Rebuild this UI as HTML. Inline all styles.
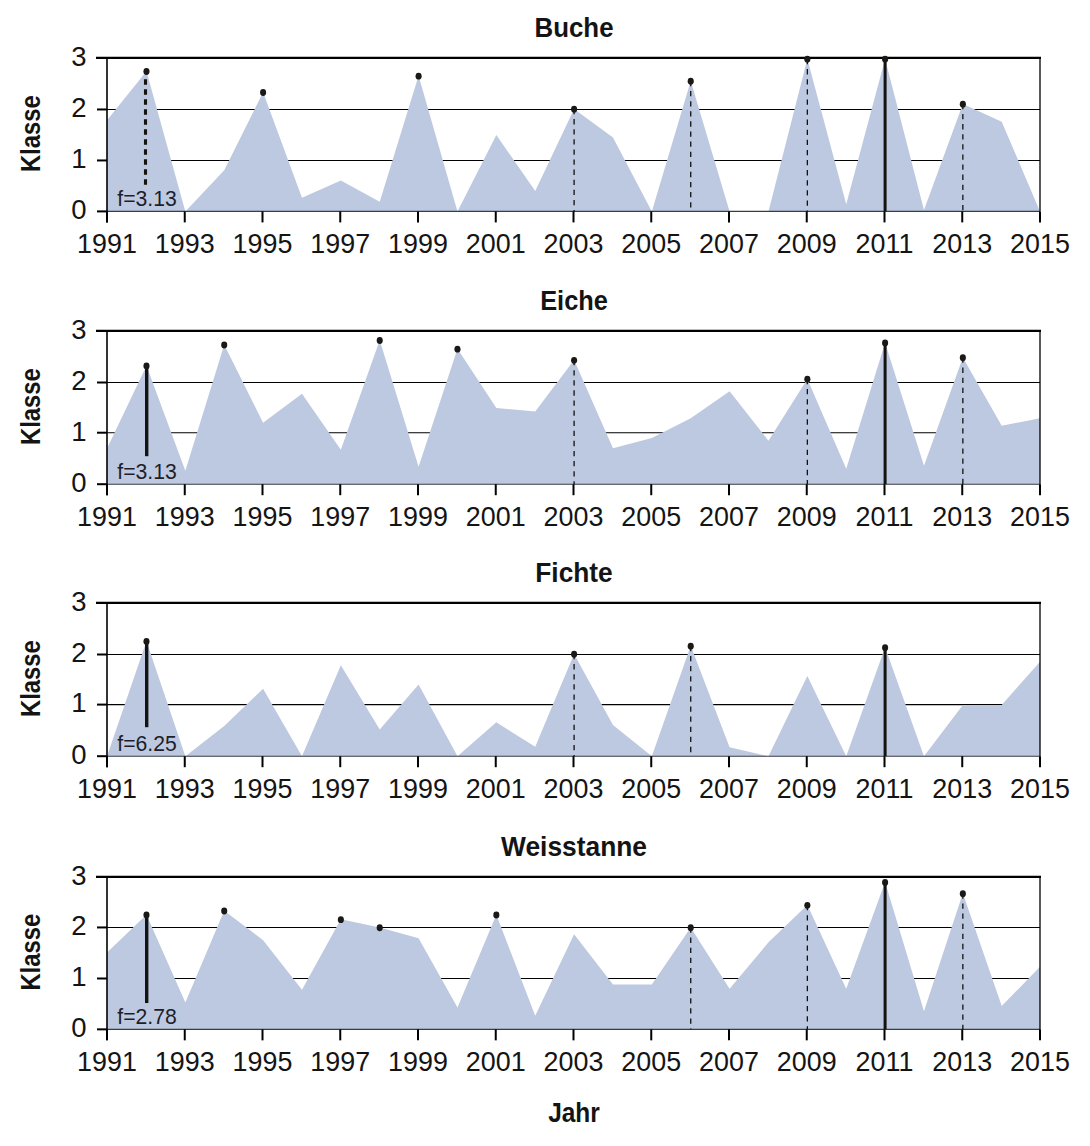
<!DOCTYPE html>
<html><head><meta charset="utf-8"><style>
html,body{margin:0;padding:0;background:#fff;width:1090px;height:1146px;overflow:hidden}
svg{display:block}
.t{font-family:"Liberation Sans",sans-serif;font-size:27.5px;fill:#141414}
.b{font-family:"Liberation Sans",sans-serif;font-size:28.2px;font-weight:bold;fill:#141414}
.f{font-family:"Liberation Sans",sans-serif;font-size:21.2px;fill:#1e1e28}
</style></head><body>
<svg width="1090" height="1146" viewBox="0 0 1090 1146">
<g><line x1="107.0" y1="160.45" x2="1040" y2="160.45" stroke="#000" stroke-width="1.1"/><line x1="107.0" y1="109.47" x2="1040" y2="109.47" stroke="#000" stroke-width="1.1"/><polygon points="107.0,211.40 107.0,120.32 146.47,71.26 185.35,211.40 224.22,170.20 263.10,92.17 301.98,197.74 340.85,180.40 379.73,201.82 418.60,75.85 457.48,211.40 496.35,135.01 535.23,191.11 574.10,109.00 612.98,137.56 651.85,211.40 690.73,80.95 729.60,211.40 768.48,211.40 807.35,59.02 846.23,204.37 885.10,59.02 923.98,209.98 962.85,103.90 1001.73,121.75 1040.00,211.40 1040.00,211.40" fill="#bdc9e0"/><line x1="107.0" y1="211.40" x2="1040" y2="211.40" stroke="#3a3d45" stroke-width="1.1"/><line x1="96" y1="57.94" x2="1041" y2="57.94" stroke="#000" stroke-width="2.2"/><line x1="107.0" y1="57.94" x2="107.0" y2="222.40" stroke="#000" stroke-width="1.6"/><line x1="1040" y1="57.94" x2="1040" y2="211.40" stroke="#000" stroke-width="1.3"/><line x1="1040" y1="211.40" x2="1040" y2="222.40" stroke="#000" stroke-width="2"/><line x1="97" y1="211.40" x2="107.0" y2="211.40" stroke="#000" stroke-width="2"/><line x1="97" y1="160.45" x2="107.0" y2="160.45" stroke="#000" stroke-width="2"/><line x1="97" y1="109.47" x2="107.0" y2="109.47" stroke="#000" stroke-width="2"/><line x1="184.75" y1="211.40" x2="184.75" y2="222.40" stroke="#000" stroke-width="2"/><line x1="262.50" y1="211.40" x2="262.50" y2="222.40" stroke="#000" stroke-width="2"/><line x1="340.25" y1="211.40" x2="340.25" y2="222.40" stroke="#000" stroke-width="2"/><line x1="418.00" y1="211.40" x2="418.00" y2="222.40" stroke="#000" stroke-width="2"/><line x1="495.75" y1="211.40" x2="495.75" y2="222.40" stroke="#000" stroke-width="2"/><line x1="573.50" y1="211.40" x2="573.50" y2="222.40" stroke="#000" stroke-width="2"/><line x1="651.25" y1="211.40" x2="651.25" y2="222.40" stroke="#000" stroke-width="2"/><line x1="729.00" y1="211.40" x2="729.00" y2="222.40" stroke="#000" stroke-width="2"/><line x1="806.75" y1="211.40" x2="806.75" y2="222.40" stroke="#000" stroke-width="2"/><line x1="884.50" y1="211.40" x2="884.50" y2="222.40" stroke="#000" stroke-width="2"/><line x1="962.25" y1="211.40" x2="962.25" y2="222.40" stroke="#000" stroke-width="2"/><line x1="107.0" y1="211.40" x2="107.0" y2="222.40" stroke="#000" stroke-width="2"/><line x1="574.10" y1="109.00" x2="574.10" y2="211.40" stroke="#111" stroke-width="1.3" stroke-dasharray="5.3 4.8"/><line x1="690.73" y1="80.95" x2="690.73" y2="211.40" stroke="#111" stroke-width="1.3" stroke-dasharray="5.3 4.8"/><line x1="807.35" y1="59.02" x2="807.35" y2="211.40" stroke="#111" stroke-width="1.3" stroke-dasharray="5.3 4.8"/><line x1="962.85" y1="103.90" x2="962.85" y2="211.40" stroke="#111" stroke-width="1.3" stroke-dasharray="5.3 4.8"/><line x1="885.10" y1="59.02" x2="885.10" y2="211.40" stroke="#141310" stroke-width="3"/><line x1="145.50" y1="79.26" x2="145.50" y2="185.40" stroke="#141310" stroke-width="3.1" stroke-dasharray="5.6 4.4"/><ellipse cx="146.47" cy="71.56" rx="3.05" ry="3.45" fill="#1a1915"/><ellipse cx="263.10" cy="92.47" rx="3.05" ry="3.45" fill="#1a1915"/><ellipse cx="418.60" cy="76.15" rx="3.05" ry="3.45" fill="#1a1915"/><ellipse cx="574.10" cy="109.30" rx="3.05" ry="3.45" fill="#1a1915"/><ellipse cx="690.73" cy="81.25" rx="3.05" ry="3.45" fill="#1a1915"/><ellipse cx="807.35" cy="59.32" rx="3.05" ry="3.45" fill="#1a1915"/><ellipse cx="885.10" cy="59.32" rx="3.05" ry="3.45" fill="#1a1915"/><ellipse cx="962.85" cy="104.20" rx="3.05" ry="3.45" fill="#1a1915"/><text x="86.5" y="219.20" text-anchor="end" class="t">0</text><text x="86.5" y="168.25" text-anchor="end" class="t">1</text><text x="86.5" y="117.27" text-anchor="end" class="t">2</text><text x="86.5" y="65.74" text-anchor="end" class="t">3</text><text transform="translate(107.00,252.90) scale(0.95,1)" text-anchor="middle" class="t" style="font-size:28.3px">1991</text><text transform="translate(184.75,252.90) scale(0.95,1)" text-anchor="middle" class="t" style="font-size:28.3px">1993</text><text transform="translate(262.50,252.90) scale(0.95,1)" text-anchor="middle" class="t" style="font-size:28.3px">1995</text><text transform="translate(340.25,252.90) scale(0.95,1)" text-anchor="middle" class="t" style="font-size:28.3px">1997</text><text transform="translate(418.00,252.90) scale(0.95,1)" text-anchor="middle" class="t" style="font-size:28.3px">1999</text><text transform="translate(495.75,252.90) scale(0.95,1)" text-anchor="middle" class="t" style="font-size:28.3px">2001</text><text transform="translate(573.50,252.90) scale(0.95,1)" text-anchor="middle" class="t" style="font-size:28.3px">2003</text><text transform="translate(651.25,252.90) scale(0.95,1)" text-anchor="middle" class="t" style="font-size:28.3px">2005</text><text transform="translate(729.00,252.90) scale(0.95,1)" text-anchor="middle" class="t" style="font-size:28.3px">2007</text><text transform="translate(806.75,252.90) scale(0.95,1)" text-anchor="middle" class="t" style="font-size:28.3px">2009</text><text transform="translate(884.50,252.90) scale(0.95,1)" text-anchor="middle" class="t" style="font-size:28.3px">2011</text><text transform="translate(962.25,252.90) scale(0.95,1)" text-anchor="middle" class="t" style="font-size:28.3px">2013</text><text transform="translate(1040.00,252.90) scale(0.95,1)" text-anchor="middle" class="t" style="font-size:28.3px">2015</text><text transform="translate(574,36.84) scale(0.917,1)" text-anchor="middle" class="b">Buche</text><text transform="translate(40,133.67) rotate(-90) scale(0.846,1)" text-anchor="middle" class="b">Klasse</text><text x="117.3" y="205.70" class="f">f=3.13</text></g>
<g><line x1="107.0" y1="432.70" x2="1040" y2="432.70" stroke="#000" stroke-width="1.1"/><line x1="107.0" y1="382.50" x2="1040" y2="382.50" stroke="#000" stroke-width="1.1"/><polygon points="107.0,484.20 107.0,448.61 146.47,365.68 185.35,470.74 224.22,344.77 263.10,422.80 301.98,393.73 340.85,449.83 379.73,340.18 418.60,466.66 457.48,348.85 496.35,408.01 535.23,411.58 574.10,360.07 612.98,448.30 651.85,438.10 690.73,418.21 729.60,391.18 768.48,440.65 807.35,378.94 846.23,468.70 885.10,342.73 923.98,465.64 962.85,357.52 1001.73,425.86 1040.00,418.21 1040.00,484.20" fill="#bdc9e0"/><line x1="107.0" y1="484.20" x2="1040" y2="484.20" stroke="#3a3d45" stroke-width="1.1"/><line x1="96" y1="330.95" x2="1041" y2="330.95" stroke="#000" stroke-width="2.2"/><line x1="107.0" y1="330.95" x2="107.0" y2="495.20" stroke="#000" stroke-width="1.6"/><line x1="1040" y1="330.95" x2="1040" y2="484.20" stroke="#000" stroke-width="1.3"/><line x1="1040" y1="484.20" x2="1040" y2="495.20" stroke="#000" stroke-width="2"/><line x1="97" y1="484.20" x2="107.0" y2="484.20" stroke="#000" stroke-width="2"/><line x1="97" y1="432.70" x2="107.0" y2="432.70" stroke="#000" stroke-width="2"/><line x1="97" y1="382.50" x2="107.0" y2="382.50" stroke="#000" stroke-width="2"/><line x1="184.75" y1="484.20" x2="184.75" y2="495.20" stroke="#000" stroke-width="2"/><line x1="262.50" y1="484.20" x2="262.50" y2="495.20" stroke="#000" stroke-width="2"/><line x1="340.25" y1="484.20" x2="340.25" y2="495.20" stroke="#000" stroke-width="2"/><line x1="418.00" y1="484.20" x2="418.00" y2="495.20" stroke="#000" stroke-width="2"/><line x1="495.75" y1="484.20" x2="495.75" y2="495.20" stroke="#000" stroke-width="2"/><line x1="573.50" y1="484.20" x2="573.50" y2="495.20" stroke="#000" stroke-width="2"/><line x1="651.25" y1="484.20" x2="651.25" y2="495.20" stroke="#000" stroke-width="2"/><line x1="729.00" y1="484.20" x2="729.00" y2="495.20" stroke="#000" stroke-width="2"/><line x1="806.75" y1="484.20" x2="806.75" y2="495.20" stroke="#000" stroke-width="2"/><line x1="884.50" y1="484.20" x2="884.50" y2="495.20" stroke="#000" stroke-width="2"/><line x1="962.25" y1="484.20" x2="962.25" y2="495.20" stroke="#000" stroke-width="2"/><line x1="107.0" y1="484.20" x2="107.0" y2="495.20" stroke="#000" stroke-width="2"/><line x1="574.10" y1="360.07" x2="574.10" y2="484.20" stroke="#111" stroke-width="1.3" stroke-dasharray="5.3 4.8"/><line x1="807.35" y1="378.94" x2="807.35" y2="484.20" stroke="#111" stroke-width="1.3" stroke-dasharray="5.3 4.8"/><line x1="962.85" y1="357.52" x2="962.85" y2="484.20" stroke="#111" stroke-width="1.3" stroke-dasharray="5.3 4.8"/><line x1="885.10" y1="342.73" x2="885.10" y2="484.20" stroke="#141310" stroke-width="3"/><line x1="146.70" y1="365.68" x2="146.70" y2="456.20" stroke="#141310" stroke-width="3.4"/><ellipse cx="146.47" cy="365.98" rx="3.05" ry="3.45" fill="#1a1915"/><ellipse cx="224.22" cy="345.07" rx="3.05" ry="3.45" fill="#1a1915"/><ellipse cx="379.73" cy="340.48" rx="3.05" ry="3.45" fill="#1a1915"/><ellipse cx="457.48" cy="349.15" rx="3.05" ry="3.45" fill="#1a1915"/><ellipse cx="574.10" cy="360.37" rx="3.05" ry="3.45" fill="#1a1915"/><ellipse cx="807.35" cy="379.24" rx="3.05" ry="3.45" fill="#1a1915"/><ellipse cx="885.10" cy="343.03" rx="3.05" ry="3.45" fill="#1a1915"/><ellipse cx="962.85" cy="357.82" rx="3.05" ry="3.45" fill="#1a1915"/><text x="86.5" y="492.00" text-anchor="end" class="t">0</text><text x="86.5" y="440.50" text-anchor="end" class="t">1</text><text x="86.5" y="390.30" text-anchor="end" class="t">2</text><text x="86.5" y="338.75" text-anchor="end" class="t">3</text><text transform="translate(107.00,525.70) scale(0.95,1)" text-anchor="middle" class="t" style="font-size:28.3px">1991</text><text transform="translate(184.75,525.70) scale(0.95,1)" text-anchor="middle" class="t" style="font-size:28.3px">1993</text><text transform="translate(262.50,525.70) scale(0.95,1)" text-anchor="middle" class="t" style="font-size:28.3px">1995</text><text transform="translate(340.25,525.70) scale(0.95,1)" text-anchor="middle" class="t" style="font-size:28.3px">1997</text><text transform="translate(418.00,525.70) scale(0.95,1)" text-anchor="middle" class="t" style="font-size:28.3px">1999</text><text transform="translate(495.75,525.70) scale(0.95,1)" text-anchor="middle" class="t" style="font-size:28.3px">2001</text><text transform="translate(573.50,525.70) scale(0.95,1)" text-anchor="middle" class="t" style="font-size:28.3px">2003</text><text transform="translate(651.25,525.70) scale(0.95,1)" text-anchor="middle" class="t" style="font-size:28.3px">2005</text><text transform="translate(729.00,525.70) scale(0.95,1)" text-anchor="middle" class="t" style="font-size:28.3px">2007</text><text transform="translate(806.75,525.70) scale(0.95,1)" text-anchor="middle" class="t" style="font-size:28.3px">2009</text><text transform="translate(884.50,525.70) scale(0.95,1)" text-anchor="middle" class="t" style="font-size:28.3px">2011</text><text transform="translate(962.25,525.70) scale(0.95,1)" text-anchor="middle" class="t" style="font-size:28.3px">2013</text><text transform="translate(1040.00,525.70) scale(0.95,1)" text-anchor="middle" class="t" style="font-size:28.3px">2015</text><text transform="translate(574,309.85) scale(0.9,1)" text-anchor="middle" class="b">Eiche</text><text transform="translate(40,406.57) rotate(-90) scale(0.846,1)" text-anchor="middle" class="b">Klasse</text><text x="117.3" y="478.50" class="f">f=3.13</text></g>
<g><line x1="107.0" y1="704.60" x2="1040" y2="704.60" stroke="#000" stroke-width="1.1"/><line x1="107.0" y1="654.50" x2="1040" y2="654.50" stroke="#000" stroke-width="1.1"/><polygon points="107.0,756.20 107.0,756.20 146.47,641.25 185.35,756.20 224.22,725.91 263.10,688.68 301.98,756.20 340.85,665.22 379.73,729.48 418.60,684.60 457.48,756.20 496.35,722.34 535.23,746.82 574.10,654.00 612.98,724.89 651.85,756.20 690.73,645.84 729.60,747.33 768.48,756.20 807.35,675.93 846.23,756.20 885.10,647.37 923.98,756.20 962.85,705.00 1001.73,705.00 1040.00,661.65 1040.00,756.20" fill="#bdc9e0"/><line x1="107.0" y1="756.20" x2="1040" y2="756.20" stroke="#3a3d45" stroke-width="1.1"/><line x1="96" y1="602.95" x2="1041" y2="602.95" stroke="#000" stroke-width="2.2"/><line x1="107.0" y1="602.95" x2="107.0" y2="767.20" stroke="#000" stroke-width="1.6"/><line x1="1040" y1="602.95" x2="1040" y2="756.20" stroke="#000" stroke-width="1.3"/><line x1="1040" y1="756.20" x2="1040" y2="767.20" stroke="#000" stroke-width="2"/><line x1="97" y1="756.20" x2="107.0" y2="756.20" stroke="#000" stroke-width="2"/><line x1="97" y1="704.60" x2="107.0" y2="704.60" stroke="#000" stroke-width="2"/><line x1="97" y1="654.50" x2="107.0" y2="654.50" stroke="#000" stroke-width="2"/><line x1="184.75" y1="756.20" x2="184.75" y2="767.20" stroke="#000" stroke-width="2"/><line x1="262.50" y1="756.20" x2="262.50" y2="767.20" stroke="#000" stroke-width="2"/><line x1="340.25" y1="756.20" x2="340.25" y2="767.20" stroke="#000" stroke-width="2"/><line x1="418.00" y1="756.20" x2="418.00" y2="767.20" stroke="#000" stroke-width="2"/><line x1="495.75" y1="756.20" x2="495.75" y2="767.20" stroke="#000" stroke-width="2"/><line x1="573.50" y1="756.20" x2="573.50" y2="767.20" stroke="#000" stroke-width="2"/><line x1="651.25" y1="756.20" x2="651.25" y2="767.20" stroke="#000" stroke-width="2"/><line x1="729.00" y1="756.20" x2="729.00" y2="767.20" stroke="#000" stroke-width="2"/><line x1="806.75" y1="756.20" x2="806.75" y2="767.20" stroke="#000" stroke-width="2"/><line x1="884.50" y1="756.20" x2="884.50" y2="767.20" stroke="#000" stroke-width="2"/><line x1="962.25" y1="756.20" x2="962.25" y2="767.20" stroke="#000" stroke-width="2"/><line x1="107.0" y1="756.20" x2="107.0" y2="767.20" stroke="#000" stroke-width="2"/><line x1="574.10" y1="654.00" x2="574.10" y2="756.20" stroke="#111" stroke-width="1.3" stroke-dasharray="5.3 4.8"/><line x1="690.73" y1="645.84" x2="690.73" y2="756.20" stroke="#111" stroke-width="1.3" stroke-dasharray="5.3 4.8"/><line x1="885.10" y1="647.37" x2="885.10" y2="756.20" stroke="#141310" stroke-width="3"/><line x1="146.70" y1="641.25" x2="146.70" y2="727.20" stroke="#141310" stroke-width="3.4"/><ellipse cx="146.47" cy="641.55" rx="3.05" ry="3.45" fill="#1a1915"/><ellipse cx="574.10" cy="654.30" rx="3.05" ry="3.45" fill="#1a1915"/><ellipse cx="690.73" cy="646.14" rx="3.05" ry="3.45" fill="#1a1915"/><ellipse cx="885.10" cy="647.67" rx="3.05" ry="3.45" fill="#1a1915"/><text x="86.5" y="764.00" text-anchor="end" class="t">0</text><text x="86.5" y="712.40" text-anchor="end" class="t">1</text><text x="86.5" y="662.30" text-anchor="end" class="t">2</text><text x="86.5" y="610.75" text-anchor="end" class="t">3</text><text transform="translate(107.00,797.70) scale(0.95,1)" text-anchor="middle" class="t" style="font-size:28.3px">1991</text><text transform="translate(184.75,797.70) scale(0.95,1)" text-anchor="middle" class="t" style="font-size:28.3px">1993</text><text transform="translate(262.50,797.70) scale(0.95,1)" text-anchor="middle" class="t" style="font-size:28.3px">1995</text><text transform="translate(340.25,797.70) scale(0.95,1)" text-anchor="middle" class="t" style="font-size:28.3px">1997</text><text transform="translate(418.00,797.70) scale(0.95,1)" text-anchor="middle" class="t" style="font-size:28.3px">1999</text><text transform="translate(495.75,797.70) scale(0.95,1)" text-anchor="middle" class="t" style="font-size:28.3px">2001</text><text transform="translate(573.50,797.70) scale(0.95,1)" text-anchor="middle" class="t" style="font-size:28.3px">2003</text><text transform="translate(651.25,797.70) scale(0.95,1)" text-anchor="middle" class="t" style="font-size:28.3px">2005</text><text transform="translate(729.00,797.70) scale(0.95,1)" text-anchor="middle" class="t" style="font-size:28.3px">2007</text><text transform="translate(806.75,797.70) scale(0.95,1)" text-anchor="middle" class="t" style="font-size:28.3px">2009</text><text transform="translate(884.50,797.70) scale(0.95,1)" text-anchor="middle" class="t" style="font-size:28.3px">2011</text><text transform="translate(962.25,797.70) scale(0.95,1)" text-anchor="middle" class="t" style="font-size:28.3px">2013</text><text transform="translate(1040.00,797.70) scale(0.95,1)" text-anchor="middle" class="t" style="font-size:28.3px">2015</text><text transform="translate(574,581.85) scale(0.934,1)" text-anchor="middle" class="b">Fichte</text><text transform="translate(40,678.58) rotate(-90) scale(0.846,1)" text-anchor="middle" class="b">Klasse</text><text x="117.3" y="750.50" class="f">f=6.25</text></g>
<g><line x1="107.0" y1="978.50" x2="1040" y2="978.50" stroke="#000" stroke-width="1.1"/><line x1="107.0" y1="927.45" x2="1040" y2="927.45" stroke="#000" stroke-width="1.1"/><polygon points="107.0,1029.35 107.0,952.49 146.47,914.75 185.35,1002.47 224.22,910.67 263.10,940.25 301.98,989.72 340.85,919.34 379.73,927.50 418.60,938.21 457.48,1007.57 496.35,914.75 535.23,1015.73 574.10,934.13 612.98,984.62 651.85,984.62 690.73,927.50 729.60,988.70 768.48,942.29 807.35,905.06 846.23,988.70 885.10,882.11 923.98,1011.14 962.85,893.33 1001.73,1006.04 1040.00,966.77 1040.00,1029.35" fill="#bdc9e0"/><line x1="107.0" y1="1029.35" x2="1040" y2="1029.35" stroke="#3a3d45" stroke-width="1.1"/><line x1="96" y1="876.95" x2="1041" y2="876.95" stroke="#000" stroke-width="2.2"/><line x1="107.0" y1="876.95" x2="107.0" y2="1040.35" stroke="#000" stroke-width="1.6"/><line x1="1040" y1="876.95" x2="1040" y2="1029.35" stroke="#000" stroke-width="1.3"/><line x1="1040" y1="1029.35" x2="1040" y2="1040.35" stroke="#000" stroke-width="2"/><line x1="97" y1="1029.35" x2="107.0" y2="1029.35" stroke="#000" stroke-width="2"/><line x1="97" y1="978.50" x2="107.0" y2="978.50" stroke="#000" stroke-width="2"/><line x1="97" y1="927.45" x2="107.0" y2="927.45" stroke="#000" stroke-width="2"/><line x1="184.75" y1="1029.35" x2="184.75" y2="1040.35" stroke="#000" stroke-width="2"/><line x1="262.50" y1="1029.35" x2="262.50" y2="1040.35" stroke="#000" stroke-width="2"/><line x1="340.25" y1="1029.35" x2="340.25" y2="1040.35" stroke="#000" stroke-width="2"/><line x1="418.00" y1="1029.35" x2="418.00" y2="1040.35" stroke="#000" stroke-width="2"/><line x1="495.75" y1="1029.35" x2="495.75" y2="1040.35" stroke="#000" stroke-width="2"/><line x1="573.50" y1="1029.35" x2="573.50" y2="1040.35" stroke="#000" stroke-width="2"/><line x1="651.25" y1="1029.35" x2="651.25" y2="1040.35" stroke="#000" stroke-width="2"/><line x1="729.00" y1="1029.35" x2="729.00" y2="1040.35" stroke="#000" stroke-width="2"/><line x1="806.75" y1="1029.35" x2="806.75" y2="1040.35" stroke="#000" stroke-width="2"/><line x1="884.50" y1="1029.35" x2="884.50" y2="1040.35" stroke="#000" stroke-width="2"/><line x1="962.25" y1="1029.35" x2="962.25" y2="1040.35" stroke="#000" stroke-width="2"/><line x1="107.0" y1="1029.35" x2="107.0" y2="1040.35" stroke="#000" stroke-width="2"/><line x1="690.73" y1="927.50" x2="690.73" y2="1029.35" stroke="#111" stroke-width="1.3" stroke-dasharray="5.3 4.8"/><line x1="807.35" y1="905.06" x2="807.35" y2="1029.35" stroke="#111" stroke-width="1.3" stroke-dasharray="5.3 4.8"/><line x1="962.85" y1="893.33" x2="962.85" y2="1029.35" stroke="#111" stroke-width="1.3" stroke-dasharray="5.3 4.8"/><line x1="885.10" y1="882.11" x2="885.10" y2="1029.35" stroke="#141310" stroke-width="3"/><line x1="146.70" y1="914.75" x2="146.70" y2="1003.05" stroke="#141310" stroke-width="3.4"/><ellipse cx="146.47" cy="915.05" rx="3.05" ry="3.45" fill="#1a1915"/><ellipse cx="224.22" cy="910.97" rx="3.05" ry="3.45" fill="#1a1915"/><ellipse cx="340.85" cy="919.64" rx="3.05" ry="3.45" fill="#1a1915"/><ellipse cx="379.73" cy="927.80" rx="3.05" ry="3.45" fill="#1a1915"/><ellipse cx="496.35" cy="915.05" rx="3.05" ry="3.45" fill="#1a1915"/><ellipse cx="690.73" cy="927.80" rx="3.05" ry="3.45" fill="#1a1915"/><ellipse cx="807.35" cy="905.36" rx="3.05" ry="3.45" fill="#1a1915"/><ellipse cx="885.10" cy="882.41" rx="3.05" ry="3.45" fill="#1a1915"/><ellipse cx="962.85" cy="893.63" rx="3.05" ry="3.45" fill="#1a1915"/><text x="86.5" y="1037.15" text-anchor="end" class="t">0</text><text x="86.5" y="986.30" text-anchor="end" class="t">1</text><text x="86.5" y="935.25" text-anchor="end" class="t">2</text><text x="86.5" y="884.75" text-anchor="end" class="t">3</text><text transform="translate(107.00,1070.85) scale(0.95,1)" text-anchor="middle" class="t" style="font-size:28.3px">1991</text><text transform="translate(184.75,1070.85) scale(0.95,1)" text-anchor="middle" class="t" style="font-size:28.3px">1993</text><text transform="translate(262.50,1070.85) scale(0.95,1)" text-anchor="middle" class="t" style="font-size:28.3px">1995</text><text transform="translate(340.25,1070.85) scale(0.95,1)" text-anchor="middle" class="t" style="font-size:28.3px">1997</text><text transform="translate(418.00,1070.85) scale(0.95,1)" text-anchor="middle" class="t" style="font-size:28.3px">1999</text><text transform="translate(495.75,1070.85) scale(0.95,1)" text-anchor="middle" class="t" style="font-size:28.3px">2001</text><text transform="translate(573.50,1070.85) scale(0.95,1)" text-anchor="middle" class="t" style="font-size:28.3px">2003</text><text transform="translate(651.25,1070.85) scale(0.95,1)" text-anchor="middle" class="t" style="font-size:28.3px">2005</text><text transform="translate(729.00,1070.85) scale(0.95,1)" text-anchor="middle" class="t" style="font-size:28.3px">2007</text><text transform="translate(806.75,1070.85) scale(0.95,1)" text-anchor="middle" class="t" style="font-size:28.3px">2009</text><text transform="translate(884.50,1070.85) scale(0.95,1)" text-anchor="middle" class="t" style="font-size:28.3px">2011</text><text transform="translate(962.25,1070.85) scale(0.95,1)" text-anchor="middle" class="t" style="font-size:28.3px">2013</text><text transform="translate(1040.00,1070.85) scale(0.95,1)" text-anchor="middle" class="t" style="font-size:28.3px">2015</text><text transform="translate(574,855.85) scale(0.935,1)" text-anchor="middle" class="b">Weisstanne</text><text transform="translate(40,952.15) rotate(-90) scale(0.846,1)" text-anchor="middle" class="b">Klasse</text><text x="117.3" y="1023.65" class="f">f=2.78</text></g>
<text transform="translate(574,1121.7) scale(0.867,1)" text-anchor="middle" class="b">Jahr</text>
</svg>
</body></html>
